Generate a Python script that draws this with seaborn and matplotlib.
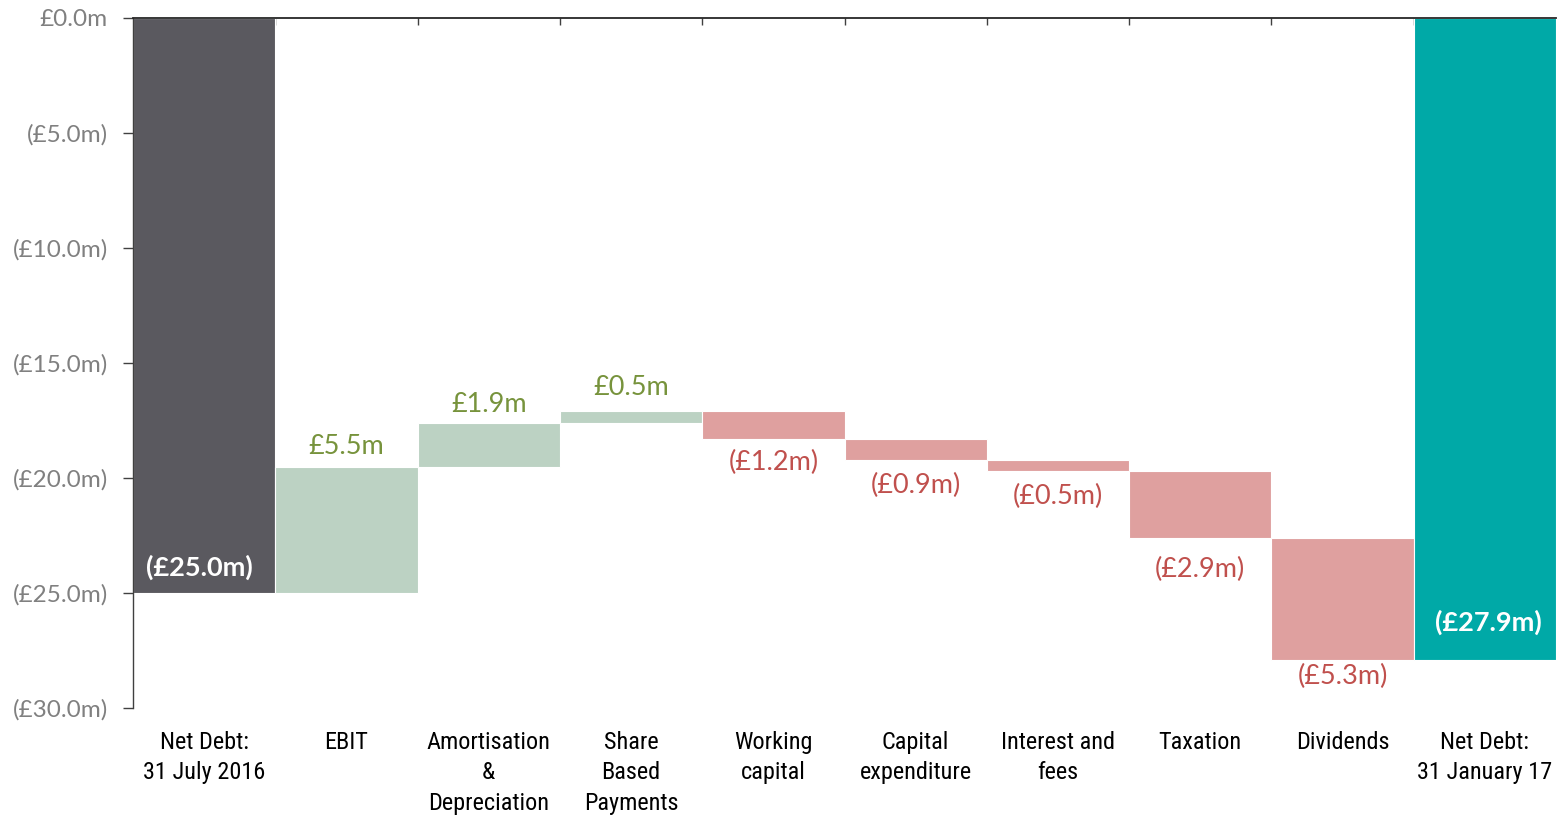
import matplotlib
matplotlib.use("Agg")
import matplotlib.pyplot as plt
import seaborn as sns
import numpy as np
import pandas as pd
from matplotlib.ticker import FixedLocator, FuncFormatter
from matplotlib import font_manager

categories = ["Net Debt:\n31 July 2016", "EBIT", "Amortisation\n&\nDepreciation",
              "Share\nBased\nPayments", "Working\ncapital", "Capital\nexpenditure",
              "Interest and\nfees", "Taxation", "Dividends", "Net Debt:\n31 January 17"]
values = [-25.0, 5.5, 1.9, 0.5, -1.2, -0.9, -0.5, -2.9, -5.3, -27.9]
kinds = ["start", "up", "up", "up", "down", "down", "down", "down", "down", "end"]

bar_colors = {"start": "#5a595f", "up": "#bcd2c3", "down": "#dfa09f", "end": "#00a9a7"}
text_colors = {"start": "white", "up": "#77933c", "down": "#c0504d", "end": "white"}

# label distance from the bar end (pixels), as placed in the original
label_gap = [26, 20.5, 18, 24, 24, 26, 25, 32, 17, 37]
label_dx = [-5, 0, 0, 0, 0, 0, 0, 0, 0, 4]

# running level for the waterfall
tops, spans = [], []
level = 0.0
for v, k in zip(values, kinds):
    if k in ("start", "end"):
        tops.append(0.0)
        spans.append(v)
        level = v
    else:
        new = level + v
        tops.append(max(level, new))
        spans.append(-abs(v))
        level = new

df = pd.DataFrame({"category": categories, "span": spans, "kind": kinds})
palette = {c: bar_colors[k] for c, k in zip(categories, kinds)}

sns.set_style("white")
fig = plt.figure(figsize=(15.66, 8.16), dpi=100)
ax = fig.add_axes([133 / 1566, 1 - 708 / 816, (1556 - 133) / 1566, (708 - 18) / 816])

sns.barplot(data=df, x="category", y="span", hue="category", palette=palette,
            width=1.0, saturation=1, legend=False, ax=ax, linewidth=0.8, edgecolor="white")

for bar, top in zip(ax.patches, tops):
    bar.set_y(top)

ax.set_xlim(-0.5, 9.5)
ax.set_ylim(-30, 0)

px = 72 / 100
val_font = ["Lato", "DejaVu Sans"]
for i, (v, k, top, sp) in enumerate(zip(values, kinds, tops, spans)):
    txt = f"£{v:.1f}m" if v >= 0 else f"(£{abs(v):.1f}m)"
    bottom = top + sp
    gap = label_gap[i] * px
    if k == "up":
        anchor, dy = top, gap
    elif k == "down":
        anchor, dy = bottom, -gap
    else:
        anchor, dy = bottom, gap
    ax.annotate(txt, (i, anchor), xytext=(label_dx[i] * px, dy), textcoords="offset points",
                ha="center", va="center", fontsize=19.5, color=text_colors[k],
                fontweight="bold" if k in ("start", "end") else "normal", family=val_font)

# y axis
ax.set_yticks(np.arange(-30, 1, 5))
ax.yaxis.set_major_formatter(FuncFormatter(
    lambda y, p: "£0.0m" if y == 0 else f"(£{abs(y):.1f}m)"))
ax.tick_params(axis="y", direction="out", length=7, width=1, color="#404040",
               labelsize=17.5, labelcolor="#808080", pad=11, left=True)
for lab in ax.get_yticklabels():
    lab.set_family(val_font)

# pick a narrow face for the category labels if one is there
names = {f.name for f in font_manager.fontManager.ttflist}
cat_font = [n for n in ["Liberation Sans Narrow", "Roboto Condensed", "Roboto", "DejaVu Sans"]
            if n in names]

# x axis: line along zero at top, category labels below
ax.xaxis.set_minor_locator(FixedLocator(np.arange(0.5, 9.5, 1)))
ax.tick_params(axis="x", which="minor", top=True, bottom=False, direction="in",
               length=5, width=1, color="#404040")
ax.tick_params(axis="x", which="major", length=0, pad=16.5, labelsize=17.5, labelcolor="black")
for lab in ax.get_xticklabels():
    lab.set_family(cat_font)
    lab.set_va("top")
    lab.set_multialignment("center")
    lab.set_linespacing(1.42)

ax.set_xlabel("")
ax.set_ylabel("")
for s in ["right", "bottom"]:
    ax.spines[s].set_visible(False)
ax.spines["left"].set_color("#404040")
ax.spines["top"].set_color("#262626")
ax.spines["left"].set_linewidth(1)
ax.spines["top"].set_linewidth(1.3)

fig.savefig("out.png", dpi=100)
